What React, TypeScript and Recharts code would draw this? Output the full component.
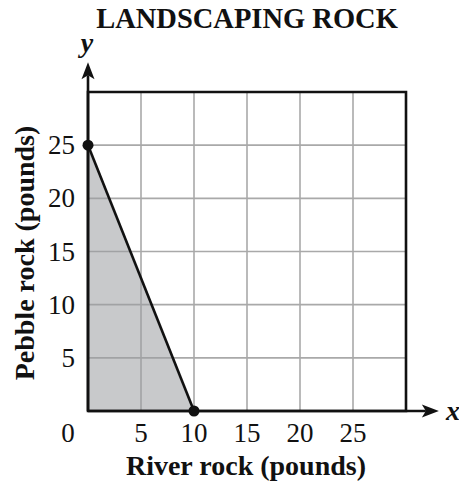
import React from 'react';
import {
  ComposedChart,
  Area,
  XAxis,
  YAxis,
  CartesianGrid,
  ReferenceLine,
  ReferenceArea,
  ReferenceDot,
  Customized,
} from 'recharts';

const title = 'LANDSCAPING ROCK';
const xLabel = 'River rock (pounds)';
const yLabel = 'Pebble rock (pounds)';
const xTicks = [0, 5, 10, 15, 20, 25];
const yTicks = [5, 10, 15, 20, 25];
const riverRock = [0, 10];
const pebbleRock = [25, 0];

const data = riverRock.map((x, i) => ({ x, y: pebbleRock[i] }));

const FONT = '"Liberation Serif", "Times New Roman", serif';

const XTick = (props: any) => {
  const { x, y, payload } = props;
  const dx = payload.value === 0 ? -20 : 0;
  return (
    <text
      x={x + dx}
      y={y + 2}
      dy={21}
      textAnchor="middle"
      fontFamily={FONT}
      fontSize={27}
      fill="#111"
    >
      {payload.value}
    </text>
  );
};

const YTick = (props: any) => {
  const { y, payload } = props;
  return (
    <text
      x={75}
      y={y}
      dy={9}
      textAnchor="end"
      fontFamily={FONT}
      fontSize={27}
      fill="#111"
    >
      {payload.value}
    </text>
  );
};

const ArrowLine = (props: any) => {
  const { x1, y1, x2, y2 } = props;
  const dx = x2 - x1;
  const dy = y2 - y1;
  const len = Math.sqrt(dx * dx + dy * dy) || 1;
  const ux = dx / len;
  const uy = dy / len;
  const hl = 17;
  const hw = 6.5;
  const bx = x2 - ux * hl;
  const by = y2 - uy * hl;
  const notch = 4;
  const nx = x2 - ux * (hl - notch);
  const ny = y2 - uy * (hl - notch);
  return (
    <g>
      <line x1={x1} y1={y1} x2={nx} y2={ny} stroke="#111" strokeWidth={2.6} />
      <polygon
        points={`${x2},${y2} ${bx - uy * hw},${by + ux * hw} ${nx},${ny} ${bx + uy * hw},${by - ux * hw}`}
        fill="#111"
      />
    </g>
  );
};

const Texts = () => (
  <g>
    <text
      x={247}
      y={28}
      textAnchor="middle"
      fontFamily={FONT}
      fontWeight="bold"
      fontSize={28.5}
      fill="#111"
    >
      {title}
    </text>
    <text
      x={87}
      y={52}
      textAnchor="middle"
      fontFamily={FONT}
      fontWeight="bold"
      fontStyle="italic"
      fontSize={28}
      fill="#111"
    >
      y
    </text>
    <text
      x={453}
      y={420}
      textAnchor="middle"
      fontFamily={FONT}
      fontWeight="bold"
      fontStyle="italic"
      fontSize={28}
      fill="#111"
    >
      x
    </text>
    <text
      x={246}
      y={475}
      textAnchor="middle"
      fontFamily={FONT}
      fontWeight="bold"
      fontSize={28}
      fill="#111"
    >
      {xLabel}
    </text>
    <text
      x={34}
      y={253}
      textAnchor="middle"
      fontFamily={FONT}
      fontWeight="bold"
      fontSize={28}
      fill="#111"
      transform="rotate(-90 34 253)"
    >
      {yLabel}
    </text>
  </g>
);

export default function App() {
  return (
    <div style={{ position: 'absolute', left: 0, top: 0, background: '#fff' }}>
      <ComposedChart
        width={459}
        height={492}
        data={data}
        margin={{ top: 92, right: 53, bottom: 41, left: 18 }}
      >
        <XAxis
          type="number"
          dataKey="x"
          domain={[0, 30]}
          ticks={xTicks}
          axisLine={false}
          tickLine={false}
          height={40}
          tick={<XTick />}
          interval={0}
          allowDataOverflow
        />
        <YAxis
          type="number"
          domain={[0, 30]}
          ticks={yTicks}
          axisLine={false}
          tickLine={false}
          width={70}
          tick={<YTick />}
          interval={0}
          allowDataOverflow
        />
        <CartesianGrid stroke="#a9a9a9" strokeWidth={1.6} />
        <Area
          type="linear"
          dataKey="y"
          stroke="#111"
          strokeWidth={2.6}
          fill="#9a9ca0"
          fillOpacity={0.55}
          dot={false}
          activeDot={false}
          isAnimationActive={false}
        />
        <ReferenceArea
          x1={0}
          x2={30}
          y1={0}
          y2={30}
          fill="none"
          fillOpacity={0}
          stroke="#111"
          strokeWidth={2.6}
          ifOverflow="visible"
        />
        <ReferenceLine
          segment={[
            { x: 0, y: 0 },
            { x: 0, y: 32.8 },
          ]}
          ifOverflow="visible"
          shape={<ArrowLine />}
        />
        <ReferenceLine
          segment={[
            { x: 0, y: 0 },
            { x: 33.1, y: 0 },
          ]}
          ifOverflow="visible"
          shape={<ArrowLine />}
        />
        {data.map((d, i) => (
          <ReferenceDot
            key={i}
            x={d.x}
            y={d.y}
            r={5.5}
            fill="#111"
            stroke="#111"
            strokeWidth={0}
            ifOverflow="visible"
          />
        ))}
        <Customized component={<Texts />} />
      </ComposedChart>
    </div>
  );
}
